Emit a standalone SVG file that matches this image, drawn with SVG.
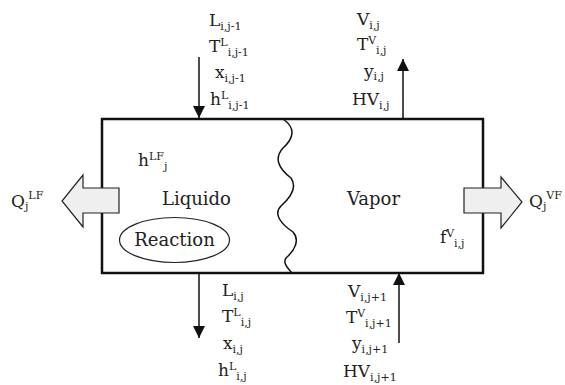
<svg xmlns="http://www.w3.org/2000/svg" width="565" height="385" viewBox="0 0 565 385">
<style>
text{font-family:'DejaVu Serif',serif;font-size:17px;fill:#222}
.big{font-size:18px}
.s{font-size:11px}
.box{fill:none;stroke:#111;stroke-width:2.5}
.ln{fill:none;stroke:#111;stroke-width:1.5}
.blk{fill:#efefef;stroke:#222;stroke-width:1.2}
</style>
<defs>
<marker id="ah2" viewBox="0 0 10 10" refX="10" refY="5" markerWidth="12" markerHeight="12" markerUnits="userSpaceOnUse" orient="auto">
<path d="M0,0 L10,5 L0,10 z" fill="#111"/>
</marker>
</defs>

<g id="stage">
<rect class="box" x="102" y="119" width="381" height="154"/>
<path id="interface" class="ln" stroke-width="1.1" d="M283,119 C296,128 294,138 283,148 C274,158 278,168 291,178 C298,188 290,198 281,206 C273,214 281,224 293,232 C300,240 295,250 286,258 C282,264 290,270 292,273"/>
</g>

<g id="heat-left">
<path class="blk" d="M119,188 L83,188 L83,175 L62,201 L83,227 L83,213 L119,213 z"/>
<text x="11" y="207">Q<tspan class="s" dy="3">j</tspan><tspan class="s" dy="-11">LF</tspan></text>
</g>

<g id="heat-right">
<path class="blk" d="M464,188 L501,188 L501,177 L522,202 L501,228 L501,213 L464,213 z"/>
<text x="529" y="207">Q<tspan class="s" dy="3">j</tspan><tspan class="s" dy="-11">VF</tspan></text>
</g>

<g id="liquid">
<text x="138" y="166">h<tspan class="s" dy="-6">LF</tspan><tspan class="s" dy="10">j</tspan></text>
<text class="big" x="162" y="205">Liquido</text>
</g>

<g id="reaction">
<ellipse cx="174.5" cy="240" rx="55" ry="22.5" fill="none" stroke="#222" stroke-width="1.2"/>
<text class="big" x="174.5" y="246" text-anchor="middle">Reaction</text>
</g>

<g id="vapor">
<text class="big" x="347" y="205">Vapor</text>
<text x="440" y="243">f<tspan class="s" dy="-6">V</tspan><tspan class="s" dy="10">i,j</tspan></text>
</g>

<g id="connectors">
<line class="ln" x1="199" y1="57" x2="199" y2="118" marker-end="url(#ah2)"/>
<line class="ln" x1="403" y1="120" x2="403" y2="59" marker-end="url(#ah2)"/>
<line class="ln" x1="199" y1="274" x2="199" y2="338" marker-end="url(#ah2)"/>
<line class="ln" x1="399" y1="343" x2="399" y2="273" marker-end="url(#ah2)"/>
</g>

<g id="feed-liquid">
<text x="209" y="26">L<tspan class="s" dy="4">i,j-1</tspan></text>
<text x="209" y="52">T<tspan class="s" dy="-6">L</tspan><tspan class="s" dy="10">i,j-1</tspan></text>
<text x="215" y="78">x<tspan class="s" dy="4">i,j-1</tspan></text>
<text x="210" y="105">h<tspan class="s" dy="-6">L</tspan><tspan class="s" dy="10">i,j-1</tspan></text>
</g>

<g id="out-vapor">
<text x="357" y="25">V<tspan class="s" dy="4">i,j</tspan></text>
<text x="357" y="50">T<tspan class="s" dy="-6">V</tspan><tspan class="s" dy="10">i,j</tspan></text>
<text x="364" y="77">y<tspan class="s" dy="3">i,j</tspan></text>
<text x="352" y="105">HV<tspan class="s" dy="4">i,j</tspan></text>
</g>

<g id="out-liquid">
<text x="222" y="296">L<tspan class="s" dy="4">i,j</tspan></text>
<text x="222" y="322">T<tspan class="s" dy="-6">L</tspan><tspan class="s" dy="10">i,j</tspan></text>
<text x="223" y="349">x<tspan class="s" dy="4">i,j</tspan></text>
<text x="218" y="376">h<tspan class="s" dy="-6">L</tspan><tspan class="s" dy="10">i,j</tspan></text>
</g>

<g id="feed-vapor">
<text x="348" y="297">V<tspan class="s" dy="4">i,j+1</tspan></text>
<text x="346" y="323">T<tspan class="s" dy="-6">V</tspan><tspan class="s" dy="10">i,j+1</tspan></text>
<text x="352" y="349">y<tspan class="s" dy="4">i,j+1</tspan></text>
<text x="343" y="377">HV<tspan class="s" dy="4">i,j+1</tspan></text>
</g>
</svg>
